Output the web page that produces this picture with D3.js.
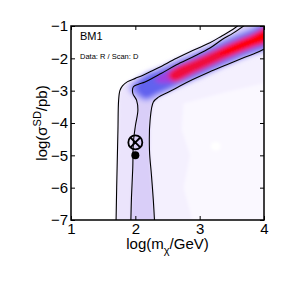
<!DOCTYPE html>
<html lang="en">
<head>
    <meta charset="UTF-8">
    <title>BM1</title>
    <script src="https://d3js.org/d3.v7.min.js"></script>
    <style>
        body { margin: 0; background: #fff; }
        text { font-family: 'Liberation Sans', Arial, sans-serif; }
    </style>
</head>
<body>
<script>

    const width  = 291;
    const height = 291;

    const xTicks = [1, 2, 3, 4];
    const yTicks = [-1, -2, -3, -4, -5, -6, -7];

    // contour lines, [log m, log sigma]
    const lineA = [[1.70,-7.1],[1.71,-6.0],[1.72,-5.1],[1.73,-4.2],[1.74,-3.3],[1.76,-3.0],[1.80,-2.85],
                   [1.88,-2.72],[2.0,-2.62],[2.12,-2.52],[2.35,-2.3],[2.64,-2.0],[2.9,-1.75],[3.16,-1.52],
                   [3.35,-1.3],[3.52,-1.1],[3.62,-0.95]];
    const lineB = [[1.93,-7.1],[1.94,-6.3],[1.96,-5.4],[1.97,-4.6],[2.0,-4.1],[2.04,-3.6],[2.02,-3.3],
                   [1.96,-3.08],[1.97,-2.88],[2.05,-2.8],[2.15,-2.73],[2.4,-2.47],[2.64,-2.2],[2.9,-1.95],
                   [3.16,-1.68],[3.35,-1.42],[3.52,-1.22],[3.72,-0.95]];
    const lineC = [[2.30,-7.1],[2.28,-6.4],[2.25,-5.6],[2.22,-4.85],[2.23,-3.9],[2.28,-3.35],[2.36,-3.2],
                   [2.51,-3.05],[2.7,-2.85],[2.9,-2.65],[3.15,-2.42],[3.42,-2.2],[3.7,-1.97],[3.88,-1.83],
                   [4.05,-1.66]];

    // ridge of the posterior band and its levels
    const ridge = [[2.0,-3.0],[2.15,-2.9],[2.35,-2.74],[2.6,-2.52],[2.9,-2.26],[3.2,-1.99],
                   [3.5,-1.72],[3.8,-1.48],[4.1,-1.22]];
    const bandStart     = [1.97, 2.02, 2.08, 2.35, 2.55, 3.3];
    const bandHalfWidth = [0.46, 0.38, 0.3, 0.24, 0.19, 0.15];

    const faintPatch = [[2.75,-3.4],[3.4,-3.05],[4.05,-2.75],[4.05,-7.1],[2.9,-7.1],[2.75,-6.0],[2.85,-5.0],[2.72,-4.2]];
    const whiteSpot  = [3.25, -4.72];

    const bestFit = [2.0, -4.6];
    const truth   = [2.0, -5.0];

    const bandColors = ['#c4befa', '#8e8af4', '#6262ee', '#a040e0', '#f0103a', '#ff0000'];

    const x = d3.scaleLinear().domain([1, 4]).range([71, 264]);
    const y = d3.scaleLinear().domain([-7, -1]).range([220, 26]);

    const svg = d3.select("body").append("svg")
            .attr("width", width)
            .attr("height", height);

    const defs = svg.append("defs");
    defs.append("clipPath").attr("id", "plot")
        .append("rect")
        .attr("x", x(1)).attr("y", y(-1))
        .attr("width", x(4) - x(1)).attr("height", y(-7) - y(-1));
    defs.append("filter").attr("id", "soft")
        .attr("x", "-20%").attr("y", "-20%").attr("width", "140%").attr("height", "140%")
        .append("feGaussianBlur").attr("stdDeviation", 1.6);
    defs.append("filter").attr("id", "softer")
        .attr("x", "-20%").attr("y", "-20%").attr("width", "140%").attr("height", "140%")
        .append("feGaussianBlur").attr("stdDeviation", 2);

    const g = svg.append("g").attr("clip-path", "url(#plot)");

    const px = d => [x(d[0]), y(d[1])];
    const area = d3.line().curve(d3.curveCatmullRom);
    const closed = d3.line().curve(d3.curveCatmullRomClosed);

    // shaded regions
    const bg = g.append("g").attr("filter", "url(#soft)");
    bg.append("path")
        .attr("d", d3.line()(lineA.map(px).concat([[x(4.1), y(-0.9)], [x(4.1), y(-7.1)]])))
        .attr("fill", "#f4f0fe");
    bg.append("path")
        .attr("d", d3.line()(faintPatch.map(px)))
        .attr("fill", "#faf8ff");
    bg.append("ellipse")
        .attr("cx", x(whiteSpot[0])).attr("cy", y(whiteSpot[1]))
        .attr("rx", 5).attr("ry", 4.5)
        .attr("fill", "#ffffff");
    bg.append("path")
        .attr("d", d3.line()(lineA.map(px).concat([[x(4.1), y(-0.9)]], lineC.slice().reverse().map(px))))
        .attr("fill", "#ebe4fc");
    bg.append("path")
        .attr("d", d3.line()(lineB.map(px).concat([[x(4.1), y(-0.9)]], lineC.slice().reverse().map(px))))
        .attr("fill", "#d9cef8");

    // band levels
    const ridgeY = d3.scaleLinear().domain(ridge.map(d => d[0])).range(ridge.map(d => d[1]));
    const band = g.append("g").attr("filter", "url(#softer)");
    bandStart.forEach((s, i) => {
        const hw = bandHalfWidth[i];
        const pts = [[s, ridgeY(s)]].concat(ridge.filter(d => d[0] > s + 0.04));
        const upper = pts.slice(1).map(d => [d[0], d[1] + hw]);
        const lower = pts.slice(1).map(d => [d[0], d[1] - hw]).reverse();
        const ring = [[s - hw * 0.2, ridgeY(s) + hw * 0.2]].concat(upper, lower);
        band.append("path")
            .attr("d", closed(ring.map(px)))
            .attr("fill", bandColors[i]);
    });

    // contour lines
    [lineA, lineB, lineC].forEach(l => {
        g.append("path")
            .attr("d", area(l.map(px)))
            .attr("fill", "none")
            .attr("stroke", "#000")
            .attr("stroke-width", 1.1);
    });

    // markers
    const r = 7;
    const bx = x(bestFit[0]), by = y(bestFit[1]);
    svg.append("circle").attr("cx", bx).attr("cy", by).attr("r", r)
        .attr("fill", "none").attr("stroke", "#000").attr("stroke-width", 1.8);
    const k = r * 0.7;
    svg.append("path")
        .attr("d", `M${bx - k},${by - k}L${bx + k},${by + k}M${bx - k},${by + k}L${bx + k},${by - k}`)
        .attr("stroke", "#000").attr("stroke-width", 1.8);
    svg.append("circle").attr("cx", x(truth[0])).attr("cy", y(truth[1])).attr("r", 4)
        .attr("fill", "#000");

    // axes
    const fmt = d3.format("d");
    svg.append("g").attr("transform", `translate(0,${y(-7)})`)
        .call(d3.axisBottom(x).tickValues(xTicks).tickFormat(fmt).tickSize(-4).tickPadding(3))
        .call(a => a.select(".domain").remove())
        .call(a => a.selectAll("text").attr("font-size", 15).attr("fill", "#000")
            .attr("font-family", "'Liberation Sans', Arial, sans-serif"));
    svg.append("g").attr("transform", `translate(${x(1)},0)`)
        .call(d3.axisLeft(y).tickValues(yTicks).tickFormat(fmt).tickSize(-4).tickPadding(3))
        .call(a => a.select(".domain").remove())
        .call(a => a.selectAll("text").attr("font-size", 15).attr("fill", "#000")
            .attr("font-family", "'Liberation Sans', Arial, sans-serif"));
    svg.append("g").attr("transform", `translate(0,${y(-1)})`)
        .call(d3.axisTop(x).tickValues(xTicks).tickFormat("").tickSize(-4))
        .call(a => a.select(".domain").remove());
    svg.append("g").attr("transform", `translate(${x(4)},0)`)
        .call(d3.axisRight(y).tickValues(yTicks).tickFormat("").tickSize(-4))
        .call(a => a.select(".domain").remove());
    svg.selectAll(".tick line").attr("stroke", "#000").attr("stroke-width", 1);

    svg.append("rect")
        .attr("x", x(1)).attr("y", y(-1))
        .attr("width", x(4) - x(1)).attr("height", y(-7) - y(-1))
        .attr("fill", "none").attr("stroke", "#000").attr("stroke-width", 1.5);

    // labels
    svg.append("text").attr("x", 80).attr("y", 40).attr("font-size", 11).text("BM1");
    svg.append("text").attr("x", 80).attr("y", 59).attr("font-size", 7.5).text("Data: R / Scan: D");

    const xl = svg.append("text")
            .attr("x", (x(1) + x(4)) / 2).attr("y", 249)
            .attr("text-anchor", "middle").attr("font-size", 15);
    xl.append("tspan").text("log(m");
    xl.append("tspan").attr("dy", 5).attr("font-size", 11).text("χ");
    xl.append("tspan").attr("dy", -5).text("/GeV)");

    const yl = svg.append("text")
            .attr("transform", `translate(47,${(y(-1) + y(-7)) / 2}) rotate(-90)`)
            .attr("text-anchor", "middle").attr("font-size", 15);
    yl.append("tspan").text("log(σ");
    yl.append("tspan").attr("dy", -6).attr("font-size", 11).text("SD");
    yl.append("tspan").attr("dy", 6).text("/pb)");

</script>
</body>
</html>
